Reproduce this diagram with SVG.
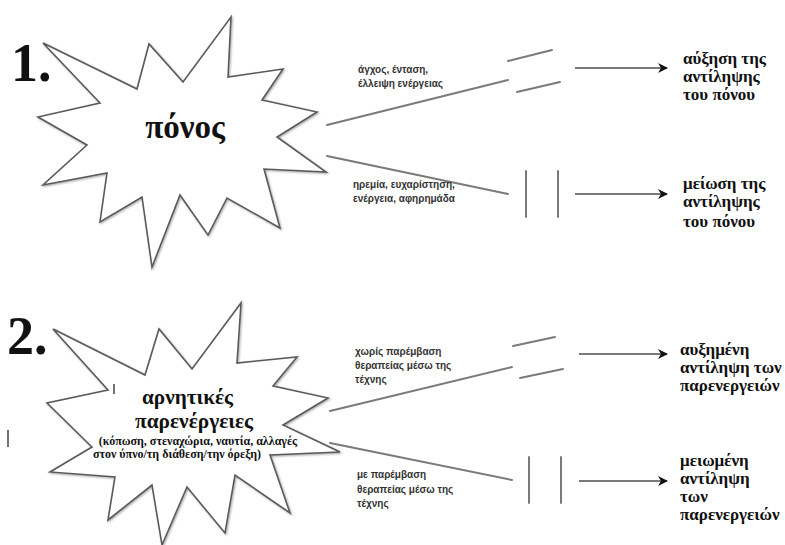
<svg xmlns="http://www.w3.org/2000/svg" width="785" height="545" viewBox="0 0 785 545">
<defs>
<style>
.star{fill:#fff;stroke:#5a5a5a;stroke-width:1.6;stroke-linejoin:miter}
.ln{stroke:#7a7a7a;stroke-width:2;fill:none;stroke-linecap:round}
.arr{stroke:#7a7a7a;stroke-width:2;fill:none;marker-end:url(#ah)}
.num{font-family:"Liberation Serif",serif;font-weight:bold;font-size:54px;fill:#111}
.big{font-family:"Liberation Serif",serif;font-weight:bold;fill:#111}
.res{font-family:"Liberation Serif",serif;font-weight:bold;font-size:17px;fill:#111}
.lab{font-family:"Liberation Sans",sans-serif;font-weight:bold;font-size:10px;fill:#333}
.mark{stroke:#444;stroke-width:1.5}
</style>
<filter id="sh" x="-10%" y="-10%" width="120%" height="120%">
<feDropShadow dx="1" dy="1" stdDeviation="1" flood-color="#000" flood-opacity="0.35"/>
</filter>
<marker id="ah" markerWidth="12" markerHeight="12" refX="9" refY="5" orient="auto" markerUnits="userSpaceOnUse">
<path d="M0,0 L10,5 L0,10 L3,5 Z" fill="#111"/>
</marker>
</defs>

<g id="label1"><text class="num" x="11" y="81">1.</text></g>
<g id="label2"><text class="num" x="7" y="354">2.</text></g>

<g id="star1">
<polygon class="star" filter="url(#sh)" points="43,43 137,89 149,44 183,82 231,17 228,77 283,69 262,100 317,112 277,137 326,172 264,169 280,228 227,198 208,235 180,195 152,267 142,197 100,222 107,173 43,185 87,145 38,117 100,103"/>
<text class="big" x="185" y="138" font-size="33" text-anchor="middle">πόνος</text>
</g>

<g id="star2">
<polygon class="star" filter="url(#sh)" points="53,329 145,375 159,329 192,369 241,303 237,363 297,357 273,386 328,398 283,425 340,452 270,455 290,513 235,475 225,533 187,487 162,545 152,485 108,520 115,477 50,472 92,447 47,403 108,390"/>
<line class="mark" x1="114" y1="384" x2="114" y2="394"/>
<text class="big" x="142" y="404" font-size="21" textLength="91" lengthAdjust="spacingAndGlyphs">αρνητικές</text>
<text class="big" x="135" y="428" font-size="21" textLength="118" lengthAdjust="spacingAndGlyphs">παρενέργειες</text>
<text class="big" x="198" y="445" font-size="12" text-anchor="middle">(κόπωση, στεναχώρια, ναυτία, αλλαγές</text>
<text class="big" x="177" y="458" font-size="12" text-anchor="middle">στον ύπνο/τη διάθεση/την όρεξη)</text>
</g>

<line class="mark" x1="8" y1="430" x2="8" y2="447"/>

<g id="connectors">
<line class="ln" x1="327" y1="125" x2="508" y2="80"/>
<line class="ln" x1="508" y1="61" x2="552" y2="50"/>
<line class="ln" x1="517" y1="92" x2="560" y2="82"/>
<line class="arr" x1="575" y1="68" x2="667" y2="68"/>
<line class="ln" x1="327" y1="156" x2="508" y2="194"/>
<line class="ln" x1="526" y1="171" x2="526" y2="217"/>
<line class="ln" x1="558" y1="171" x2="558" y2="217"/>
<line class="arr" x1="575" y1="194" x2="667" y2="194"/>

<line class="ln" x1="330" y1="411" x2="512" y2="367"/>
<line class="ln" x1="513" y1="346" x2="555" y2="337"/>
<line class="ln" x1="520" y1="378" x2="563" y2="369"/>
<line class="arr" x1="579" y1="354" x2="667" y2="354"/>
<line class="ln" x1="330" y1="443" x2="512" y2="480"/>
<line class="ln" x1="529" y1="457" x2="529" y2="503"/>
<line class="ln" x1="561" y1="457" x2="561" y2="503"/>
<line class="arr" x1="579" y1="481" x2="667" y2="481"/>
</g>

<g id="labels">
<text class="lab" x="358" y="73">άγχος, ένταση,</text>
<text class="lab" x="358" y="87">έλλειψη ενέργειας</text>
<text class="lab" x="353" y="188">ηρεμία, ευχαρίστηση,</text>
<text class="lab" x="353" y="202">ενέργεια, αφηρημάδα</text>
<text class="lab" x="355" y="355">χωρίς παρέμβαση</text>
<text class="lab" x="355" y="369">θεραπείας μέσω της</text>
<text class="lab" x="355" y="383">τέχνης</text>
<text class="lab" x="357" y="478">με παρέμβαση</text>
<text class="lab" x="357" y="493">θεραπείας μέσω της</text>
<text class="lab" x="357" y="507">τέχνης</text>
</g>

<g id="result1">
<text class="res" x="683" y="64">αύξηση της</text>
<text class="res" x="683" y="82">αντίληψης</text>
<text class="res" x="683" y="100">του πόνου</text>
</g>
<g id="result2">
<text class="res" x="683" y="189">μείωση της</text>
<text class="res" x="683" y="207">αντίληψης</text>
<text class="res" x="683" y="227">του πόνου</text>
</g>
<g id="result3">
<text class="res" x="680" y="355">αυξημένη</text>
<text class="res" x="680" y="373">αντίληψη των</text>
<text class="res" x="680" y="391">παρενεργειών</text>
</g>
<g id="result4">
<text class="res" x="680" y="466">μειωμένη</text>
<text class="res" x="680" y="484">αντίληψη</text>
<text class="res" x="680" y="502">των</text>
<text class="res" x="680" y="520">παρενεργειών</text>
</g>
</svg>
